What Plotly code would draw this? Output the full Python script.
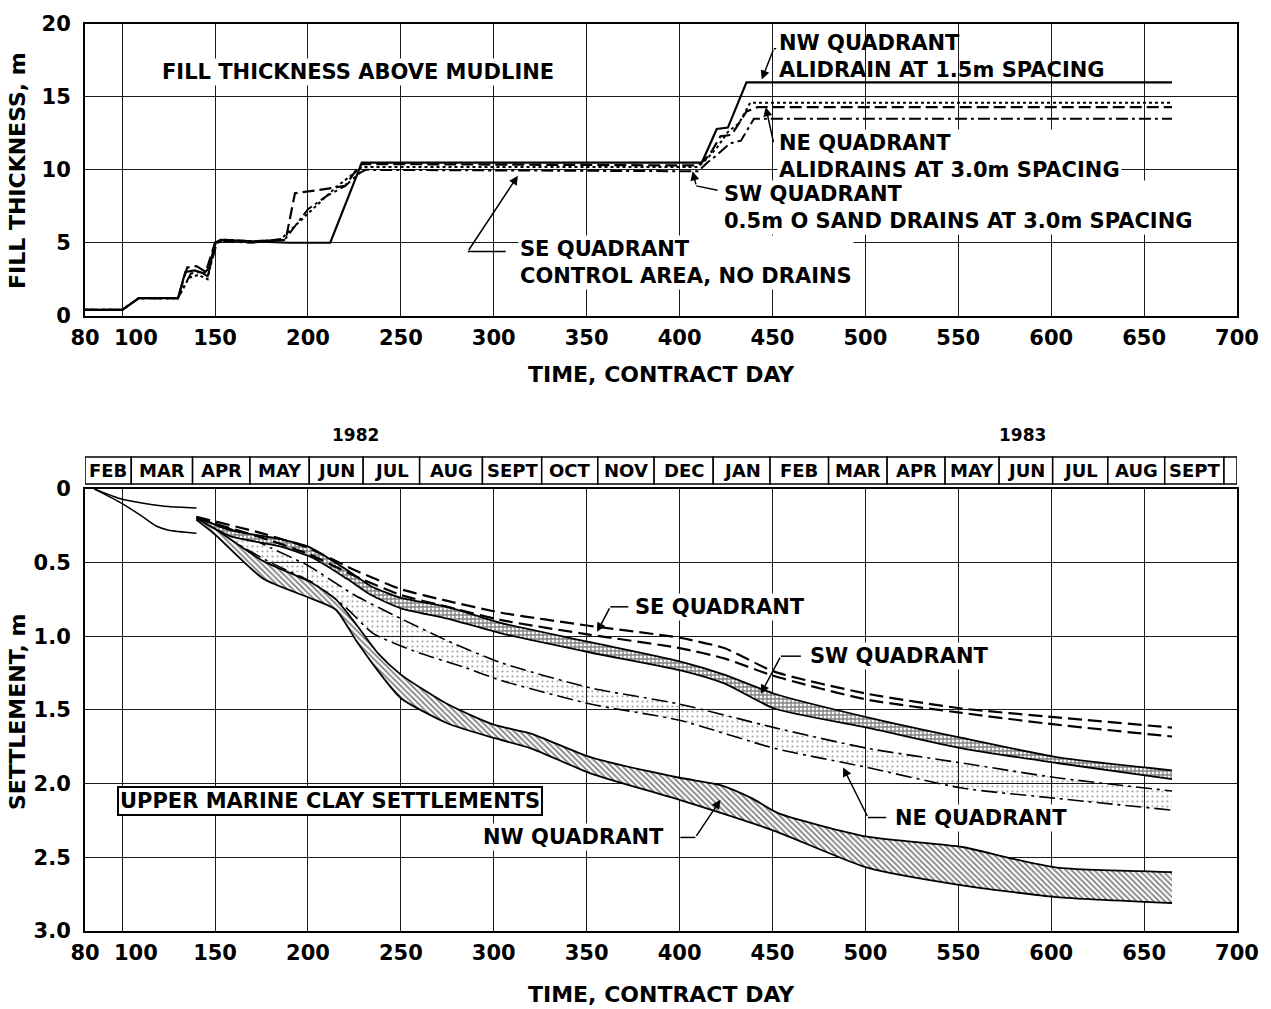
import plotly.graph_objects as go

# ---------------- TOP CHART: fill thickness (m) vs contract day ----------------
nw_fill_day = [80, 100, 109, 130, 134, 139, 144, 147, 150, 153, 170, 190, 212, 229, 412, 420, 426, 436, 665]
nw_fill = [0.4, 0.4, 1.2, 1.2, 3.0, 3.1, 2.9, 3.3, 5.0, 5.2, 5.1, 5.0, 5.0, 10.5, 10.5, 12.8, 12.9, 16.0, 16.0]

ne_fill_day = [80, 100, 109, 130, 135, 140, 145, 150, 155, 170, 188, 193, 205, 220, 226, 229, 410, 416, 422, 428, 436, 442, 665]
ne_fill = [0.4, 0.4, 1.2, 1.2, 3.3, 3.4, 3.0, 5.0, 5.2, 5.1, 5.2, 8.4, 8.6, 8.9, 10.0, 10.4, 10.3, 11.0, 12.3, 12.4, 14.0, 14.3, 14.3]

sw_fill_day = [80, 100, 109, 130, 136, 141, 146, 150, 155, 170, 185, 200, 215, 225, 229, 410, 415, 420, 426, 432, 438, 665]
sw_fill = [0.4, 0.4, 1.2, 1.2, 2.6, 2.8, 2.5, 4.9, 5.2, 5.1, 5.2, 7.0, 8.8, 9.8, 10.2, 10.2, 10.8, 11.5, 12.6, 13.2, 14.6, 14.6]

se_fill_day = [80, 100, 109, 130, 137, 142, 146, 151, 156, 170, 188, 200, 210, 220, 228, 231, 410, 415, 420, 427, 433, 440, 665]
se_fill = [0.4, 0.4, 1.2, 1.2, 2.9, 3.0, 2.7, 5.0, 5.1, 5.0, 5.3, 7.3, 8.2, 8.9, 9.8, 10.0, 9.9, 10.5, 11.0, 11.8, 12.0, 13.5, 13.5]

# ---------------- BOTTOM CHART: settlement (m) bands ----------------
early_day_a = [85, 100, 113, 125, 140]
early_set_a = [0.0, 0.07, 0.10, 0.12, 0.13]
early_day_b = [85, 100, 110, 118, 125, 140]
early_set_b = [0.0, 0.10, 0.18, 0.25, 0.28, 0.30]

nw_up_day = [140, 150, 176, 201, 215, 226, 238, 250, 275, 300, 320, 352, 400, 422, 439, 453, 501, 552, 576, 603, 665]
nw_up = [0.19, 0.27, 0.49, 0.63, 0.75, 0.92, 1.12, 1.26, 1.46, 1.60, 1.66, 1.82, 1.96, 2.01, 2.10, 2.20, 2.36, 2.43, 2.50, 2.57, 2.60]
nw_lo_day = [140, 150, 176, 201, 215, 226, 238, 250, 275, 300, 320, 352, 400, 451, 501, 552, 603, 665]
nw_lo = [0.21, 0.31, 0.61, 0.74, 0.82, 1.03, 1.24, 1.42, 1.59, 1.69, 1.76, 1.93, 2.11, 2.32, 2.57, 2.69, 2.77, 2.81]

sw_up_day = [140, 158, 185, 200, 221, 234, 250, 275, 304, 352, 400, 424, 451, 501, 552, 603, 665]
sw_up = [0.19, 0.28, 0.34, 0.39, 0.55, 0.66, 0.74, 0.80, 0.91, 1.04, 1.17, 1.26, 1.39, 1.55, 1.69, 1.82, 1.91]
sw_lo_day = [140, 158, 185, 203, 221, 234, 250, 275, 304, 352, 400, 424, 451, 501, 552, 603, 665]
sw_lo = [0.20, 0.32, 0.39, 0.47, 0.61, 0.72, 0.81, 0.88, 0.98, 1.11, 1.23, 1.32, 1.49, 1.62, 1.76, 1.86, 1.97]

ne_up_day = [140, 160, 180, 200, 225, 250, 275, 304, 352, 400, 451, 501, 552, 603, 665]
ne_up = [0.20, 0.28, 0.40, 0.52, 0.72, 0.88, 1.03, 1.18, 1.35, 1.46, 1.62, 1.76, 1.86, 1.96, 2.05]
ne_lo_day = [140, 160, 180, 203, 220, 235, 257, 284, 304, 352, 400, 451, 501, 552, 603, 665]
ne_lo = [0.21, 0.36, 0.50, 0.64, 0.80, 0.98, 1.10, 1.21, 1.30, 1.46, 1.57, 1.76, 1.89, 2.03, 2.10, 2.18]

se_a_day = [140, 175, 200, 225, 250, 275, 304, 352, 400, 424, 451, 501, 552, 603, 665]
se_a = [0.19, 0.30, 0.40, 0.55, 0.68, 0.76, 0.84, 0.93, 1.01, 1.08, 1.24, 1.39, 1.49, 1.55, 1.62]
se_b_day = [140, 175, 200, 225, 250, 275, 304, 352, 400, 424, 451, 501, 552, 603, 665]
se_b = [0.20, 0.33, 0.44, 0.59, 0.72, 0.80, 0.89, 0.99, 1.08, 1.15, 1.27, 1.43, 1.52, 1.60, 1.68]

# ---------------- month header ----------------
month_names = ["FEB", "MAR", "APR", "MAY", "JUN", "JUL", "AUG", "SEPT", "OCT", "NOV", "DEC",
               "JAN", "FEB", "MAR", "APR", "MAY", "JUN", "JUL", "AUG", "SEPT", ""]
month_edges = [80, 104.9, 137.9, 168.8, 200.7, 229.7, 260.1, 293.9, 325.8, 356.0, 386.3,
               418.1, 448.7, 480.2, 511.7, 542.9, 572.0, 600.8, 630.5, 661.1, 693.0, 700]
year_labels = ["1982", "1983"]
year_days = [225.5, 584.6]

x_ticks = [80, 100, 150, 200, 250, 300, 350, 400, 450, 500, 550, 600, 650, 700]
x_ticktext = ["80", ""] + [str(v) for v in x_ticks[2:]]
shifted_tick_label = "100"
shifted_tick_day = 107.5
top_y_ticks = [0, 5, 10, 15, 20]
bot_y_ticks = [0, 0.5, 1.0, 1.5, 2.0, 2.5, 3.0]
bot_y_text = ["0", "0.5", "1.0", "1.5", "2.0", "2.5", "3.0"]

FONT = "DejaVu Sans"
BLACK = "black"

fig = go.Figure()


def line(x, y, xa, ya, width=2.0, dash="solid", fill=None, pattern=None):
    kw = dict(x=x, y=y, mode="lines", xaxis=xa, yaxis=ya, showlegend=False, hoverinfo="skip",
              line=dict(color=BLACK, width=width, dash=dash, shape="spline", smoothing=0.6))
    if fill:
        kw["fill"] = fill
        kw["fillcolor"] = "rgba(0,0,0,0)"
        kw["fillpattern"] = pattern
    fig.add_trace(go.Scatter(**kw))


def step(x, y, dash, width=2.2):
    fig.add_trace(go.Scatter(x=x, y=y, mode="lines", xaxis="x", yaxis="y", showlegend=False,
                             hoverinfo="skip", line=dict(color=BLACK, width=width, dash=dash)))


# top chart lines
step(se_fill_day, se_fill, "12px,4px,3px,4px", 2.0)
step(sw_fill_day, sw_fill, "3px,3px", 2.0)
step(ne_fill_day, ne_fill, "12px,5px", 2.2)
step(nw_fill_day, nw_fill, "solid", 2.2)

# bottom chart
line(early_day_a, early_set_a, "x2", "y2", 1.5)
line(early_day_b, early_set_b, "x2", "y2", 1.5)

line(ne_up_day, ne_up, "x2", "y2", 1.6, "16px,5px,3px,5px")
line(ne_lo_day, ne_lo, "x2", "y2", 1.6, "16px,5px,3px,5px", fill="tonexty",
     pattern=dict(shape=".", size=5, solidity=0.15, fgcolor="#444", bgcolor="rgba(255,255,255,0)"))

line(nw_up_day, nw_up, "x2", "y2", 1.8)
line(nw_lo_day, nw_lo, "x2", "y2", 1.8, fill="tonexty",
     pattern=dict(shape="\\", size=4, solidity=0.45, fgcolor=BLACK, bgcolor="white"))

line(sw_up_day, sw_up, "x2", "y2", 1.8)
line(sw_lo_day, sw_lo, "x2", "y2", 1.8, fill="tonexty",
     pattern=dict(shape="+", size=4, solidity=0.55, fgcolor=BLACK, bgcolor="white"))

line(se_a_day, se_a, "x2", "y2", 2.2, "14px,6px")
line(se_b_day, se_b, "x2", "y2", 2.2, "14px,6px")

# ---------------- layout ----------------
ax_common = dict(showline=True, linewidth=2, linecolor=BLACK, mirror=True, ticks="",
                 showgrid=True, gridcolor="#1a1a1a", gridwidth=1, zeroline=False,
                 tickfont=dict(family=FONT, size=21, color=BLACK, weight="bold"))

fig.update_layout(
    width=1271, height=1009,
    margin=dict(l=85, r=34, t=20, b=78),
    paper_bgcolor="white", plot_bgcolor="white",
    font=dict(family=FONT, size=21, color=BLACK, weight="bold"),
    showlegend=False,
    xaxis=dict(domain=[0, 1], anchor="y", range=[80, 700], tickvals=x_ticks, ticktext=x_ticktext,
               tickangle=0, ticklabelstandoff=2, ticklabeloverflow="allow", **ax_common),
    yaxis=dict(domain=[0.6784, 1], anchor="x", range=[0, 20], tickvals=top_y_ticks,
               ticklabelstandoff=8, **ax_common),
    xaxis2=dict(domain=[0, 1], anchor="y2", range=[80, 700], tickvals=x_ticks, ticktext=x_ticktext,
                tickangle=0, ticklabelstandoff=2, ticklabeloverflow="allow", **ax_common),
    yaxis2=dict(domain=[0, 0.4874], anchor="x2", range=[3.0, 0], tickvals=bot_y_ticks,
                ticktext=bot_y_text, ticklabelstandoff=8, **ax_common),
)

shapes = []
annotations = []

# shifted "100" tick labels (offset to the right of their gridline as in the original)
annotations.append(dict(x=shifted_tick_day, y=0.6535, xref="x", yref="paper", text=shifted_tick_label,
                        showarrow=False, font=dict(size=21), xanchor="center", yanchor="middle"))
annotations.append(dict(x=shifted_tick_day, y=-0.0238, xref="x2", yref="paper", text=shifted_tick_label,
                        showarrow=False, font=dict(size=21), xanchor="center", yanchor="middle"))

# month header boxes and labels
HY0, HY1 = 0.4929, 0.5225
for i, name in enumerate(month_names):
    x0, x1 = month_edges[i], month_edges[i + 1]
    shapes.append(dict(type="rect", xref="x2", yref="paper", x0=x0, x1=x1, y0=HY0, y1=HY1,
                       line=dict(color=BLACK, width=1.5), fillcolor="white", layer="above"))
    if name:
        annotations.append(dict(x=(x0 + x1) / 2, y=(HY0 + HY1) / 2, xref="x2", yref="paper",
                                text=name, showarrow=False, font=dict(size=18),
                                xanchor="center", yanchor="middle"))
for lab, d in zip(year_labels, year_days):
    annotations.append(dict(x=d, y=0.5466, xref="x2", yref="paper", text=lab, showarrow=False,
                            font=dict(size=17), xanchor="center", yanchor="middle"))

# axis titles
annotations += [
    dict(x=0.5, y=0.6136, xref="paper", yref="paper", text="TIME, CONTRACT DAY", showarrow=False,
         font=dict(size=22), xanchor="center", yanchor="middle"),
    dict(x=0.5, y=-0.0703, xref="paper", yref="paper", text="TIME, CONTRACT DAY", showarrow=False,
         font=dict(size=22), xanchor="center", yanchor="middle"),
    dict(x=-0.0585, y=0.8386, xref="paper", yref="paper", text="FILL THICKNESS, m", showarrow=False,
         textangle=-90, font=dict(size=22), xanchor="center", yanchor="middle"),
    dict(x=-0.0585, y=0.242, xref="paper", yref="paper", text="SETTLEMENT, m", showarrow=False,
         textangle=-90, font=dict(size=22), xanchor="center", yanchor="middle"),
]


def label(x, y, text, xa, ya, anchor="left", **extra):
    d = dict(x=x, y=y, xref=xa, yref=ya, text=text, showarrow=False, align="left",
             xanchor=anchor, yanchor="middle", bgcolor="white", font=dict(size=21))
    d.update(extra)
    annotations.append(d)


def arrow(x0, y0, x1, y1, xa, ya):
    annotations.append(dict(x=x1, y=y1, ax=x0, ay=y0, xref=xa, yref=ya, axref=xa, ayref=ya,
                            text="", showarrow=True, arrowhead=2, arrowsize=1.2, arrowwidth=1.5,
                            arrowcolor=BLACK, standoff=0))


def seg(x0, y0, x1, y1, xa, ya):
    shapes.append(dict(type="line", xref=xa, yref=ya, x0=x0, y0=y0, x1=x1, y1=y1,
                       line=dict(color=BLACK, width=1.5)))


# top chart labels
label(120.2, 16.72, "FILL THICKNESS ABOVE MUDLINE", "x", "y")
label(452.3, 17.78, "NW QUADRANT<br>ALIDRAIN AT 1.5m SPACING", "x", "y", bgcolor="rgba(0,0,0,0)")
label(452.3, 10.92, "NE QUADRANT<br>ALIDRAINS AT 3.0m SPACING", "x", "y")
label(422.6, 7.41, "SW QUADRANT<br>0.5m O SAND DRAINS AT 3.0m SPACING", "x", "y")
label(312.9, 3.62, "SE QUADRANT<br>CONTROL AREA, NO DRAINS", "x", "y")
seg(452.0, 18.3, 450.7, 18.3, "x", "y")
arrow(450.7, 18.3, 444.2, 16.2, "x", "y")
arrow(450.7, 11.8, 446.4, 14.3, "x", "y")
seg(420.4, 8.6, 409.0, 8.9, "x", "y")
arrow(409.0, 8.9, 407.0, 9.9, "x", "y")
seg(306.4, 4.4, 286.0, 4.4, "x", "y")
arrow(286.0, 4.4, 313.0, 9.6, "x", "y")

# bottom chart labels
label(375.0, 0.80, "SE QUADRANT", "x2", "y2")
label(469.0, 1.135, "SW QUADRANT", "x2", "y2")
label(514.9, 2.23, "NE QUADRANT", "x2", "y2")
label(392.9, 2.365, "NW QUADRANT", "x2", "y2", anchor="right")
label(212.0, 2.12, "UPPER MARINE CLAY SETTLEMENTS", "x2", "y2", anchor="center",
      bordercolor=BLACK, borderwidth=2, borderpad=1)
seg(372.4, 0.80, 362.7, 0.80, "x2", "y2")
arrow(362.7, 0.80, 355.6, 0.97, "x2", "y2")
seg(465.3, 1.135, 454.5, 1.135, "x2", "y2")
arrow(454.5, 1.135, 443.7, 1.39, "x2", "y2")
seg(511.2, 2.23, 501.4, 2.23, "x2", "y2")
arrow(501.4, 2.23, 488.0, 1.89, "x2", "y2")
seg(400.4, 2.365, 408.5, 2.365, "x2", "y2")
arrow(408.5, 2.365, 422.0, 2.11, "x2", "y2")

fig.update_layout(shapes=shapes, annotations=annotations)
fig.write_html("out.html", config={"displayModeBar": False},
               post_script="document.body.style.margin='0';")
